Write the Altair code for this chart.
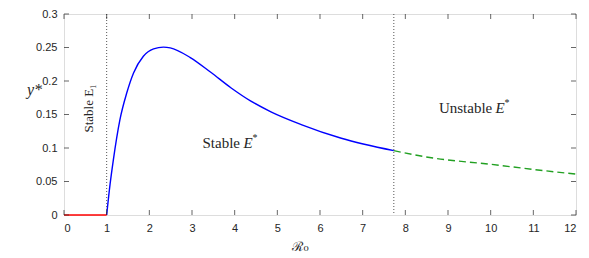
import altair as alt
import pandas as pd

# Stable branch (solid blue)
r_stable = [1.0, 1.08, 1.156, 1.31, 1.47, 1.63, 1.86, 2.10, 2.33, 2.49, 2.96, 3.44, 3.91,
            4.38, 4.85, 5.56, 6.5, 7.73]
y_stable = [0.0, 0.046, 0.082, 0.142, 0.182, 0.212, 0.237, 0.248, 0.2505, 0.2495, 0.235, 0.213, 0.190,
            0.170, 0.154, 0.135, 0.1145, 0.096]
# Unstable branch (dashed green)
r_unstable = [7.73, 8.65, 10.0, 11.0, 12.0]
y_unstable = [0.096, 0.085, 0.0757, 0.068, 0.061]
# Disease-free branch (red)
r_dfe = [0.0, 1.0]
y_dfe = [0.0, 0.0]
# threshold lines
thresholds = [1.0, 7.73]
x_ticks = list(range(0, 13))
y_ticks = [0, 0.05, 0.1, 0.15, 0.2, 0.25, 0.3]

region_r = [3.89, 9.63]
region_y = [0.108, 0.159]
region_word = ["Stable", "Unstable"]
vlabel = pd.DataFrame({"r": [0.58], "y": [0.159], "t": ["Stable E\u2081"]})

xs = alt.Scale(domain=[0, 12], nice=False, zero=False)
ys = alt.Scale(domain=[0, 0.3], nice=False)

x_axis = alt.Axis(values=x_ticks, title="\u211b\u2080", grid=False, domain=False, ticks=False,
                  labelPadding=7, labelFontSize=11, labelColor="#262626", labelFont="Liberation Sans",
                  labelOverlap=False,
                  titleFont="DejaVu Serif", titleFontSize=13, titleFontWeight="normal",
                  titleColor="#262626", titleX=236, titleY=31, titleBaseline="middle",
                  titleAlign="center")
y_axis = alt.Axis(values=y_ticks, format="~g", title="y*", grid=False, domain=False, ticks=False,
                  labelPadding=7, labelFontSize=11, labelColor="#262626", labelFont="Liberation Sans",
                  labelOverlap=False,
                  titleFont="Liberation Serif", titleFontStyle="italic", titleFontSize=16,
                  titleFontWeight="normal", titleColor="#262626", titleAngle=0,
                  titleX=-30, titleY=75, titleBaseline="middle", titleAlign="center")
X = alt.X("r:Q", scale=xs, axis=x_axis)
Y = alt.Y("y:Q", scale=ys, axis=y_axis)

df_s = pd.DataFrame({"r": r_stable, "y": y_stable})
df_u = pd.DataFrame({"r": r_unstable, "y": y_unstable})
df_d = pd.DataFrame({"r": r_dfe, "y": y_dfe})
df_t = pd.DataFrame({"r": thresholds})
df_xt = pd.DataFrame({"r": x_ticks})
df_yt = pd.DataFrame({"y": y_ticks})

stable = alt.Chart(df_s).mark_line(color="#0000ff", strokeWidth=1.4, interpolate="monotone").encode(x=X, y=Y)
unstable = alt.Chart(df_u).mark_line(color="#22a022", strokeWidth=1.4, strokeDash=[7, 4],
                                      interpolate="monotone").encode(x=X, y=Y)
dfe = alt.Chart(df_d).mark_line(color="#ff0000", strokeWidth=1.6).encode(x=X, y=Y)
vlines = alt.Chart(df_t).mark_rule(color="#555555", strokeWidth=1, strokeDash=[1, 2]).encode(
    x=X, y=alt.value(0), y2=alt.value(201))

xt_bot = alt.Chart(df_xt).mark_tick(color="#262626", size=5, thickness=1, yOffset=-2.5, orient="vertical").encode(
    x=X, y=alt.value(201))
xt_top = alt.Chart(df_xt).mark_tick(color="#262626", size=5, thickness=1, yOffset=2.5, orient="vertical").encode(
    x=X, y=alt.value(0))
yt_left = alt.Chart(df_yt).mark_tick(color="#262626", size=5, thickness=1, xOffset=2.5, orient="horizontal").encode(
    y=Y, x=alt.value(0))
yt_right = alt.Chart(df_yt).mark_tick(color="#262626", size=5, thickness=1, xOffset=-2.5, orient="horizontal").encode(
    y=Y, x=alt.value(512))

# region labels: "Stable E*" / "Unstable E*" built from word + italic E + superscript *
fs = 15
stable_df = pd.DataFrame({"r": [region_r[0]], "y": [region_y[0]], "t": [region_word[0]]})
unstable_df = pd.DataFrame({"r": [region_r[1]], "y": [region_y[1]], "t": [region_word[1]]})
layers_txt = []
for d, start, word_w in [(stable_df, -27.5, 41.0), (unstable_df, -36, 56.5)]:
    base = alt.Chart(d)
    layers_txt.append(base.mark_text(font="Liberation Serif", fontSize=fs, color="#262626",
                                     baseline="middle", align="left", dx=start).encode(x=X, y=Y, text="t:N"))
    layers_txt.append(base.mark_text(font="Liberation Serif", fontSize=fs, fontStyle="italic", color="#262626",
                                     baseline="middle", align="left", dx=start + word_w).encode(
        x=X, y=Y, text=alt.value("E")))
    layers_txt.append(base.mark_text(font="Liberation Serif", fontSize=10, color="#262626",
                                     baseline="middle", align="left", dx=start + word_w + 9, dy=-5).encode(
        x=X, y=Y, text=alt.value("*")))

vtxt = alt.Chart(vlabel).mark_text(font="Liberation Serif", fontSize=13, color="#262626", angle=270,
                                   baseline="middle", align="center").encode(x=X, y=Y, text="t:N")

chart = alt.layer(stable, vlines, dfe, unstable, xt_bot, xt_top, yt_left, yt_right, *layers_txt, vtxt).properties(
    width=512, height=201,
    padding={"left": 56, "top": 6, "right": 5, "bottom": 40},
    autosize=alt.AutoSizeParams(type="none"),
).configure_view(stroke="#404040", strokeWidth=1).configure(background="white")

chart.save("out.html", embed_options={"renderer": "svg", "actions": False})
